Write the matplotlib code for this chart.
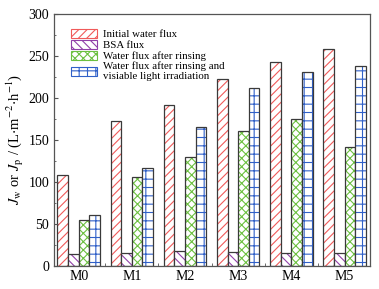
import matplotlib
matplotlib.use('Agg')
import matplotlib.pyplot as plt
from matplotlib.ticker import MultipleLocator
import numpy as np

plt.rcParams['font.family'] = ['Liberation Serif', 'DejaVu Serif']
plt.rcParams['mathtext.fontset'] = 'stix'
plt.rcParams['hatch.linewidth'] = 0.8

categories = ['M0', 'M1', 'M2', 'M3', 'M4', 'M5']
initial_flux = [108, 173, 192, 223, 243, 258]
bsa_flux = [14, 15, 18, 17, 15, 15]
rinse_flux = [55, 106, 130, 160, 175, 141]
light_flux = [60, 117, 165, 212, 231, 238]

series = [
    (initial_flux, '#f05a5a', '////', 'Initial water flux'),
    (bsa_flux, '#9040a8', '\\\\\\\\', 'BSA flux'),
    (rinse_flux, '#6cc040', 'xxxx', 'Water flux after rinsing'),
    (light_flux, '#3060c8', '++', 'Water flux after rinsing and\nvisiable light irradiation'),
]

fig = plt.figure(figsize=(3.79, 2.89), dpi=100)
ax = fig.add_axes([0.143, 0.08, 0.832, 0.872])

index = np.arange(len(categories))
width = 0.2
for i, (vals, color, hatch, label) in enumerate(series):
    x = index + (i - 1.5) * width
    ax.bar(x, vals, width, color='white', edgecolor=color, hatch=hatch, linewidth=0)
    ax.bar(x, vals, width, color='none', edgecolor='#3a3a3a', linewidth=0.9)
    ax.bar([np.nan], [np.nan], color='white', edgecolor=color, hatch=hatch, label=label)

handles, labels = ax.get_legend_handles_labels()
leg = ax.legend(handles, labels, loc='upper left', frameon=False, fontsize=7.8,
                handlelength=2.4, handleheight=0.9, labelspacing=0.05,
                handletextpad=0.5, borderaxespad=0.3, bbox_to_anchor=(0.03, 0.97))
for p in leg.get_patches():
    p.set_linewidth(0.8)

ax.set_xlim(-0.46, 5.47)
ax.set_ylim(0, 300)
ax.set_xticks(index)
ax.set_xticklabels(categories, fontsize=10)
ax.set_xticks(index[:-1] + 0.5, minor=True)
ax.yaxis.set_major_locator(MultipleLocator(50))
ax.yaxis.set_minor_locator(MultipleLocator(25))
ax.tick_params(axis='both', which='both', direction='in', labelsize=10, color='#555555')
ax.tick_params(axis='x', which='major', length=0, pad=3)
ax.tick_params(axis='x', which='minor', length=2)
ax.tick_params(axis='y', which='major', length=3)
ax.tick_params(axis='y', which='minor', length=1.5)
for s in ax.spines.values():
    s.set_color('#555555')
    s.set_linewidth(0.9)

ax.set_ylabel(r'$J_{\rm w}$ or $J_{\rm p}$ / (L$\cdot$m$^{-2}$$\cdot$h$^{-1}$)', fontsize=10.5, labelpad=2)

fig.savefig('out.png', dpi=100)
